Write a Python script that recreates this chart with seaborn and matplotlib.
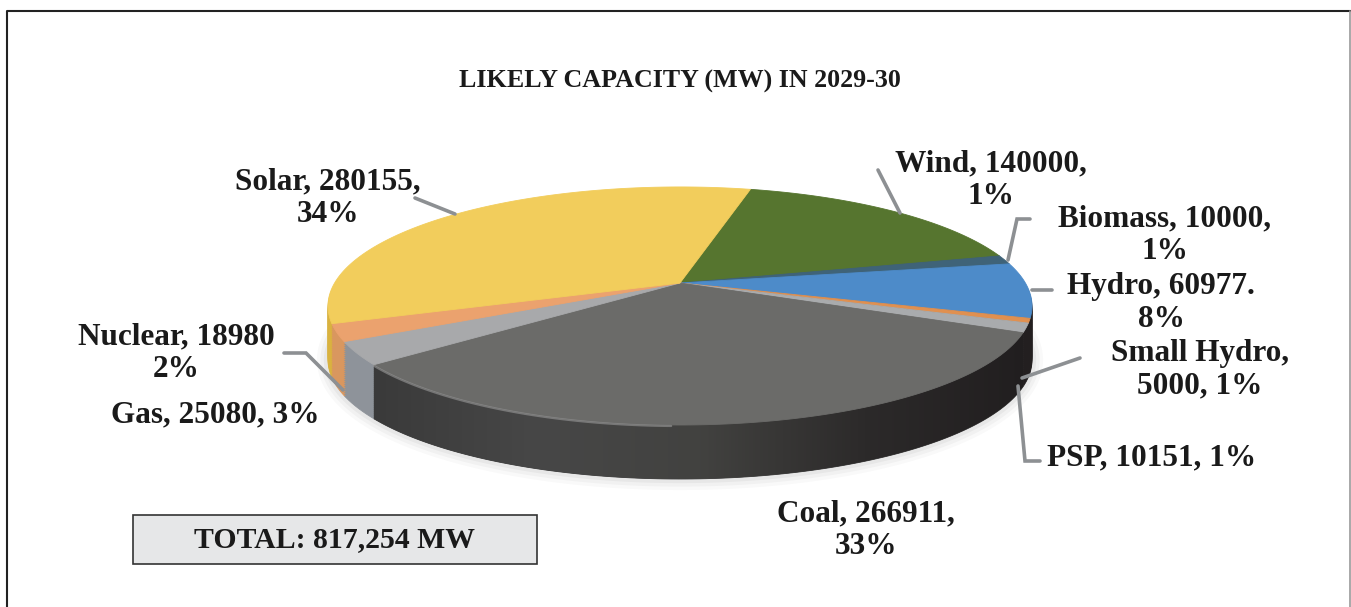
import numpy as np
import matplotlib
matplotlib.use("Agg")
import matplotlib.pyplot as plt
from matplotlib.colors import LinearSegmentedColormap
from matplotlib.path import Path
from matplotlib.patches import Rectangle
from matplotlib.transforms import Affine2D, Transform
import seaborn as sb

names = ["Wind", "Biomass", "Hydro", "Small Hydro", "PSP", "Coal", "Gas", "Nuclear", "Solar"]
capacity = [140000, 10000, 60977, 5000, 10151, 266911, 25080, 18980, 280155]
top_colors = ["#56752f", "#3f6378", "#4d8bc9", "#e09050", "#a9abad", "#6b6b69", "#a8a9ab", "#eba26e", "#f2cd5c"]
side_colors = ["#3c5220", "#2c4553", "#231f20", "#231f20", "#231f20", "#3d3d3d", "#8e939a", "#d9975f", "#d9b23f"]
coal_side = ["#3a3a3a", "#474747", "#424240", "#2c2a2a", "#211e1f"]

title = "LIKELY CAPACITY (MW) IN 2029-30"
total_label = "TOTAL: 817,254 MW"
labels = [
    ("Solar, 280155,\n34%", 328, 198),
    ("Wind, 140000,\n1%", 991, 180),
    ("Biomass, 10000,\n1%", 1165, 235),
    ("Hydro, 60977.\n8%", 1161, 303),
    ("Small Hydro,\n5000, 1%", 1200, 370),
    ("PSP, 10151, 1%", 1152, 458),
    ("Coal, 266911,\n33%", 866, 530),
    ("Gas, 25080, 3%", 215, 415),
    ("Nuclear, 18980\n2%", 176, 353),
]
leaders = [
    ([415, 455], [198, 214]),
    ([878, 900], [170, 213]),
    ([1030, 1017, 1008], [219, 219, 260]),
    ([1052, 1032], [290, 290]),
    ([1080, 1022], [358, 378]),
    ([1040, 1025, 1018], [461, 461, 386]),
    ([284, 306, 343], [353, 353, 390]),
]

START = 76
DEPTH = 54


# tilted disc: a unit circle seen in perspective, output in image pixels
class Tilt(Transform):
    input_dims = 2
    output_dims = 2
    is_affine = False

    def transform_non_affine(self, xy):
        xy = np.asarray(xy)
        w = 1 + 0.193 * xy[:, 1]
        return np.column_stack([680 + 345.4 * xy[:, 0] / w, 283 - 114.6 * xy[:, 1] / w])

    def transform_path_non_affine(self, path):
        up = Affine2D().scale(2000)
        polys = path.to_polygons(transform=up, closed_only=False)
        return Path(self.transform_non_affine(polys[0] / 2000))


tilt = Tilt()


def rim(a, b, dy=0, n=120):
    t = np.radians(np.linspace(a, b, n))
    xy = tilt.transform_non_affine(np.column_stack([np.cos(t), np.sin(t)]))
    return xy[:, 0], xy[:, 1] + dy


sb.set_theme(style="white")
plt.rcParams["font.family"] = ["Liberation Serif", "DejaVu Serif"]

fig = plt.figure(figsize=(13.51, 6.07), dpi=100, facecolor="white")
ax = fig.add_axes([0, 0, 1, 1])


def draw_pie(colors, dy, zorder):
    wedges, _ = ax.pie(capacity, colors=sb.color_palette(colors), startangle=START,
                       counterclock=False, wedgeprops={"linewidth": 0.6})
    for w in wedges:
        w.set_edgecolor(w.get_facecolor())
        w.set_transform(tilt + Affine2D().translate(0, dy) + ax.transData)
        w.set_zorder(zorder)


# soft shadow under the disc
for lw, al in [(16, 0.025), (11, 0.03), (6, 0.04)]:
    xs, ys = rim(-180, 0, DEPTH)
    ax.plot(xs, ys, color="black", lw=lw, alpha=al, zorder=0, solid_capstyle="round")

for dy in range(DEPTH, 0, -2):
    draw_pie(side_colors, dy, 1)

# coal side has a horizontal shade
shares = np.cumsum(capacity) / np.sum(capacity) * 360
coal_a = START - shares[names.index("Coal") - 1]
coal_b = START - shares[names.index("Coal")]
x1, y1 = rim(coal_a, coal_b)
x2, y2 = rim(coal_b, coal_a, DEPTH)
side_path = Path(np.column_stack([np.r_[x1, x2], np.r_[y1, y2]]))
im = ax.imshow(np.linspace(0, 1, 256)[None, :], extent=[372, 1030, 480, 330],
               cmap=LinearSegmentedColormap.from_list("coal", coal_side), zorder=2, aspect="auto")
im.set_clip_path(side_path, transform=ax.transData)

draw_pie(top_colors, 0, 3)

# light bevel along the near edge of coal
xs, ys = rim(coal_b, coal_b + 50, 1)
ax.plot(xs, ys, color="#9a9a9a", lw=1.6, alpha=0.6, zorder=4)

for xs, ys in leaders:
    ax.plot(xs, ys, color="#8d9093", lw=2.6, zorder=5, solid_joinstyle="miter")

for txt, x, y in labels:
    ax.text(x, y, txt, ha="center", va="center", fontsize=22.5, fontweight="bold",
            color="#1a1a1a", linespacing=1.15, zorder=6)
ax.text(680, 81, title, ha="center", va="center", fontsize=18.7, fontweight="bold", color="#1a1a1a")

ax.add_patch(Rectangle((133, 515), 404, 49, facecolor="#e6e7e8", edgecolor="#333333", lw=1.2))
ax.text(335, 540, total_label, ha="center", va="center", fontsize=21.4, fontweight="bold", color="#1a1a1a")

# frame of the page, open at the bottom
ax.plot([7, 7, 1351], [607, 11, 11], color="#222222", lw=1.5)
ax.plot([1350, 1350], [11, 607], color="#999999", lw=1.2)

ax.set_aspect("auto")
ax.set_xlim(0, 1351)
ax.set_ylim(607, 0)
ax.axis("off")
fig.savefig("out.png", dpi=100)
